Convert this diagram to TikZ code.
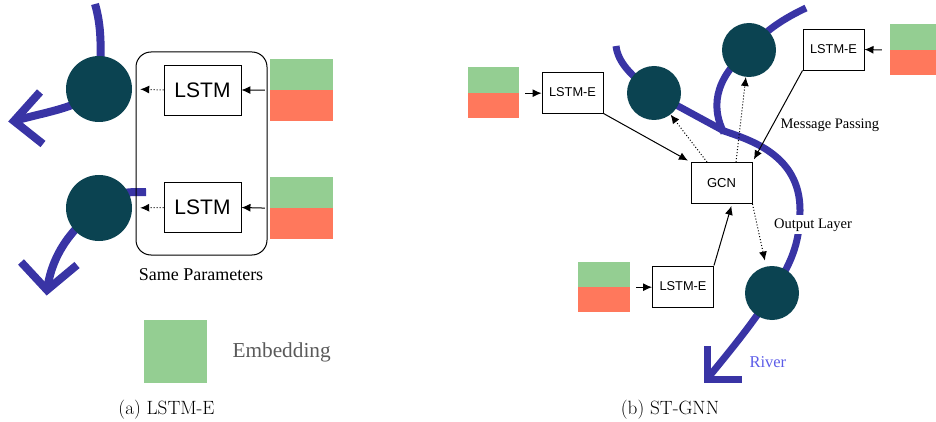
\documentclass[tikz,border=0pt]{standalone}
\usepackage{fontspec}
\newfontfamily\tms{Liberation Serif}
\newfontfamily\hv{Liberation Sans}
\usetikzlibrary{arrows.meta}
\definecolor{riverc}{RGB}{57,52,165}
\definecolor{circc}{RGB}{11,67,81}
\definecolor{embg}{RGB}{148,206,146}
\definecolor{embr}{RGB}{255,120,92}
\definecolor{rivertext}{RGB}{92,92,232}
\definecolor{legtext}{RGB}{90,90,90}
\begin{document}
\begin{tikzpicture}[x=1pt,y=-1pt,
  riverL/.style={draw=riverc,line width=8pt},
  riverR/.style={draw=riverc,line width=7pt},
  circL/.style={circle,fill=circc,minimum size=66,inner sep=0},
  circR/.style={circle,fill=circc,minimum size=54,inner sep=0},
  lstmbox/.style={draw,line width=0.9pt,inner sep=0,minimum width=77,minimum height=50,font=\hv\fontsize{21}{25}\selectfont},
  ebox/.style={draw,line width=0.9pt,inner sep=0,minimum width=61,minimum height=41,font=\hv\fontsize{12.8}{15}\selectfont},
  green/.style={fill=embg,inner sep=0},
  red/.style={fill=embr,inner sep=0},
  arr/.style={-{Latex[length=9pt,width=8pt]},line width=1pt},
  darr/.style={arr,dotted},
  tlabel/.style={anchor=base west,font=\tms\fontsize{14.5}{17}\selectfont},
  caption/.style={anchor=base,font=\fontsize{19.2}{23}\selectfont}
]
\path[use as bounding box] (0,0) rectangle (936,422);

% ---------- (a) LSTM-E ----------
% rivers
\draw[riverL] (95,4) .. controls (101,25) and (102,45) .. (99,89)
  .. controls (80,108) and (45,112) .. (14,121);
\draw[riverL,line join=miter] (40,92) -- (14,121) -- (43,144);
\draw[riverL] (146,192) .. controls (120,192) .. (99,208)
  .. controls (70,230) and (52,255) .. (47,290);
\draw[riverL,line join=miter] (21,262) -- (47,290) -- (77,265);

\node[circL] (ca1) at (99,89) {};
\node[circL] (ca2) at (99,208) {};
\node[draw,line width=1pt,rounded corners=15pt,minimum width=131,minimum height=203,inner sep=0] (grp) at (201.5,153.5) {};
\node[lstmbox] (la1) at (202.5,90) {LSTM};
\node[lstmbox] (la2) at (202.5,207.5) {LSTM};
\node[green,minimum width=63,minimum height=31] (ga1) at (301.5,74.5) {};
\node[red,minimum width=63,minimum height=31] (ra1) at (301.5,105.5) {};
\node[green,minimum width=63,minimum height=31] (ga2) at (301.5,192.5) {};
\node[red,minimum width=63,minimum height=31] (ra2) at (301.5,223.5) {};
\draw[arr,shorten <=5pt] (ga1.south west) -- (la1.east);
\draw[arr,shorten <=5pt] (ga2.south west) -- (la2.east);
\draw[darr,shorten >=8pt] (la1.west) -- (ca1.east);
\draw[darr,shorten >=8pt] (la2.west) -- (ca2.east);
\node[anchor=base,font=\tms\fontsize{18}{21}\selectfont] (sp) at (201,280) {Same Parameters};

\node[green,minimum width=63,minimum height=63] (leg) at (175.5,351.5) {};
\node[anchor=base west,text=legtext,font=\tms\fontsize{21.3}{25}\selectfont] (legt) at (229,357) {Embedding};
\node[caption] (capa) at (166.5,414) {(a) LSTM-E};

% ---------- (b) ST-GNN ----------
\draw[riverR] (616,46) .. controls (618,62) and (630,75) .. (654,93)
  -- (724,131) .. controls (750,140) and (800,155) .. (800,210)
  .. controls (800,245) and (790,265) .. (772,293)
  .. controls (755,320) and (735,345) .. (707,379);
\draw[riverR] (724,133) .. controls (712,110) and (712,80) .. (749,50)
  .. controls (765,30) and (785,18) .. (806,8);
\draw[riverR,line join=miter] (707,346) -- (707,379) -- (742,379);

\node[circR] (cb1) at (654,93) {};
\node[circR] (cb2) at (749,50) {};
\node[circR] (cb3) at (772,293) {};

\node[green,minimum width=51,minimum height=26] (gb1) at (493.5,80) {};
\node[red,minimum width=51,minimum height=25] (rb1) at (493.5,105.5) {};
\node[green,minimum width=51,minimum height=26] (gb2) at (915.5,37) {};
\node[red,minimum width=51,minimum height=25] (rb2) at (915.5,62.5) {};
\node[green,minimum width=52,minimum height=25] (gb3) at (604,274.5) {};
\node[red,minimum width=52,minimum height=25] (rb3) at (604,299.5) {};

\node[ebox] (lb1) at (572.5,92.5) {LSTM-E};
\node[ebox] (lb2) at (833.5,49.5) {LSTM-E};
\node[ebox] (lb3) at (683,286.5) {LSTM-E};
\node[ebox,font=\hv\fontsize{13}{15}\selectfont] (gcn) at (721.5,183) {GCN};

\draw[arr,shorten <=6pt] (gb1.south east) -- (lb1.west |- gb1.south east);
\draw[arr,shorten <=8pt] (gb2.south west) -- (lb2.east);
\draw[arr,shorten <=6pt] (gb3.south east) -- (lb3.west |- gb3.south east);

\draw[arr,shorten >=3pt] (lb1.south east) -- (gcn.north west);
\draw[arr,shorten >=3pt] (lb2.south west) -- (gcn.north east);
\draw[arr,shorten >=2pt] (lb3.north east) -- ([xshift=10.5pt]gcn.south);

\draw[darr] ([xshift=-14.5pt]gcn.north) -- (cb1);
\draw[darr] ([xshift=14.5pt]gcn.north) -- (cb2);
\draw[darr,shorten >=6pt] (gcn.south east) -- (cb3);

\node[tlabel] (mp) at (777,129) {Message Passing};
\node[tlabel,fill=white,inner sep=3pt] (ol) at (771,228) {Output Layer};
\node[anchor=base west,text=rivertext,font=\tms\fontsize{16.5}{19}\selectfont] (rv) at (746,367) {River};
\node[caption] (capb) at (670,414) {(b) ST-GNN};
\end{tikzpicture}
\end{document}
